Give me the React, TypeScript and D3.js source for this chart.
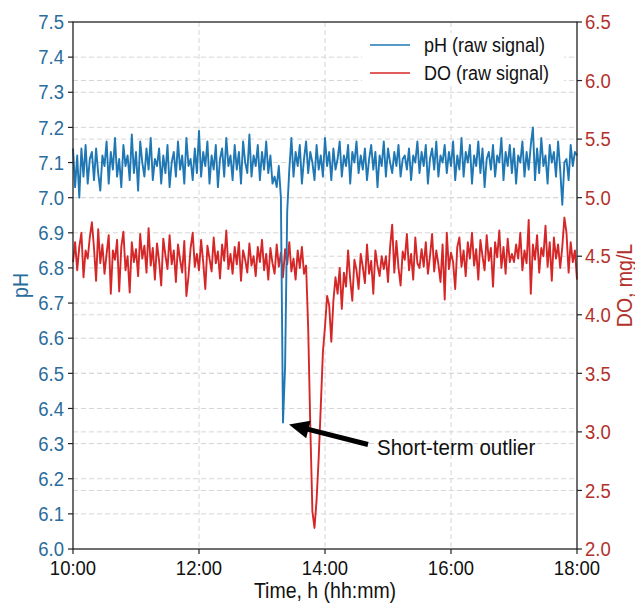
import React from 'react';
import * as d3 from 'd3';

// ---------- data ----------
const sampleIntervalMin = 2;
const startLabel = '10:00';
const endLabel = '18:00';

const phValues = [
  7.14, 7.03, 7.12, 7.00, 7.14, 7.06, 7.15, 7.04, 7.11, 7.13,
  7.05, 7.14, 7.07, 7.02, 7.12, 7.09, 7.16, 7.04, 7.13, 7.08,
  7.17, 7.06, 7.11, 7.03, 7.15, 7.09, 7.12, 7.05, 7.18, 7.07,
  7.13, 7.02, 7.16, 7.10, 7.06, 7.14, 7.08, 7.17, 7.05, 7.11,
  7.09, 7.14, 7.04, 7.12, 7.07, 7.15, 7.03, 7.10, 7.13, 7.06,
  7.16, 7.08, 7.12, 7.04, 7.17, 7.09, 7.11, 7.05, 7.14, 7.07,
  7.19, 7.06, 7.13, 7.09, 7.16, 7.04, 7.12, 7.08, 7.15, 7.03,
  7.11, 7.14, 7.06, 7.17, 7.09, 7.12, 7.05, 7.15, 7.08, 7.13,
  7.04, 7.16, 7.10, 7.07, 7.18, 7.06, 7.12, 7.09, 7.15, 7.05,
  7.13, 7.08, 7.16, 7.07, 7.12, 7.04, 7.06, 7.03, 7.09, 7.00,
  6.36, 6.52, 6.96, 7.08, 7.17, 7.06, 7.13, 7.09, 7.15, 7.04,
  7.11, 7.16, 7.07, 7.13, 7.10, 7.05, 7.15, 7.08, 7.12, 7.06,
  7.17, 7.09, 7.13, 7.05, 7.14, 7.08, 7.11, 7.16, 7.06, 7.12,
  7.09, 7.15, 7.04, 7.13, 7.10, 7.16, 7.07, 7.12, 7.08, 7.14,
  7.05, 7.11, 7.15, 7.08, 7.13, 7.03, 7.12, 7.09, 7.16, 7.06,
  7.14, 7.10, 7.07, 7.13, 7.09, 7.15, 7.06, 7.11, 7.12, 7.08,
  7.14, 7.05, 7.12, 7.10, 7.16, 7.07, 7.13, 7.09, 7.15, 7.04,
  7.11, 7.14, 7.08, 7.16, 7.06, 7.12, 7.10, 7.15, 7.07, 7.13,
  7.09, 7.16, 7.05, 7.12, 7.08, 7.17, 7.06, 7.13, 7.10, 7.15,
  7.04, 7.12, 7.09, 7.16, 7.07, 7.14, 7.03, 7.11, 7.13, 7.08,
  7.15, 7.06, 7.12, 7.10, 7.17, 7.05, 7.13, 7.09, 7.15, 7.07,
  7.14, 7.04, 7.12, 7.10, 7.16, 7.06, 7.13, 7.08, 7.15, 7.20,
  7.05, 7.14, 7.07, 7.17, 7.09, 7.12, 7.04, 7.15, 7.10, 7.13,
  7.06, 7.16, 7.08, 6.98, 7.10, 7.11, 7.05, 7.15, 7.09, 7.13,
  7.12,
];

const doValues = [
  4.45, 4.62, 4.38, 4.58, 4.70, 4.32, 4.55, 4.48, 4.66, 4.79,
  4.57, 4.29, 4.73, 4.44, 4.60, 4.35, 4.52, 4.68, 4.18, 4.55,
  4.47, 4.64, 4.20, 4.58, 4.71, 4.38, 4.50, 4.19, 4.62, 4.45,
  4.56, 4.33, 4.69, 4.48, 4.59, 4.36, 4.74, 4.42, 4.57, 4.30,
  4.61, 4.46, 4.25, 4.65, 4.51, 4.39, 4.68, 4.43, 4.55, 4.28,
  4.60, 4.47, 4.36, 4.63, 4.16, 4.33, 4.57, 4.70, 4.41, 4.52,
  4.38, 4.64, 4.45, 4.22, 4.59, 4.48, 4.37, 4.66, 4.44, 4.54,
  4.31, 4.60, 4.46, 4.72, 4.39, 4.52, 4.35, 4.58, 4.43, 4.62,
  4.29, 4.55, 4.47, 4.36, 4.61, 4.42, 4.50, 4.33, 4.58, 4.45,
  4.64, 4.38, 4.52, 4.30, 4.57, 4.44, 4.35, 4.60, 4.41, 4.53,
  4.32, 4.56, 4.43, 4.62, 4.37, 4.48, 4.30, 4.55, 4.40, 4.58,
  4.35, 4.42, 3.88, 3.05, 2.32, 2.18, 2.42, 2.78, 3.22, 3.68,
  3.90, 4.16, 4.08, 3.77, 4.12, 4.32, 4.18, 4.40, 4.05, 4.36,
  4.24, 4.55, 4.30, 4.12, 4.47, 4.38, 4.22, 4.52, 4.41, 4.27,
  4.60, 4.35, 4.46, 4.18, 4.55, 4.42, 4.33, 4.50, 4.39, 4.50,
  4.28, 4.58, 4.77, 4.36, 4.63, 4.40, 4.25, 4.54, 4.47, 4.69,
  4.38, 4.52, 4.30, 4.66, 4.44, 4.40, 4.56, 4.41, 4.62, 4.35,
  4.50, 4.69, 4.37, 4.55, 4.43, 4.28, 4.60, 4.13, 4.70, 4.39,
  4.53, 4.45, 4.22, 4.58, 4.66, 4.41, 4.55, 4.33, 4.62, 4.48,
  4.70, 4.42, 4.56, 4.30, 4.64, 4.50, 4.38, 4.68, 4.46, 4.57,
  4.24, 4.62, 4.49, 4.72, 4.40, 4.58, 4.35, 4.65, 4.45, 4.52,
  4.45, 4.60, 4.48, 4.70, 4.38, 4.55, 4.44, 4.81, 4.18, 4.60,
  4.47, 4.68, 4.36, 4.57, 4.50, 4.76, 4.41, 4.62, 4.29, 4.66,
  4.48, 4.60, 4.40, 4.58, 4.83, 4.70, 4.36, 4.62, 4.45, 4.55,
  4.30,
];

const phTicks = [6.0, 6.1, 6.2, 6.3, 6.4, 6.5, 6.6, 6.7, 6.8, 6.9, 7.0, 7.1, 7.2, 7.3, 7.4, 7.5];
const doTicks = [2.0, 2.5, 3.0, 3.5, 4.0, 4.5, 5.0, 5.5, 6.0, 6.5];
const timeTickLabels = ['10:00', '12:00', '14:00', '16:00', '18:00'];
const seriesNames = ['pH (raw signal)', 'DO (raw signal)'];
const axisTitles = { x: 'Time, h (hh:mm)', left: 'pH', right: 'DO, mg/L' };
const annotationText = 'Short-term outlier';

// ---------- styling ----------
const W = 635;
const H = 603;
const M = { left: 73, right: 577, top: 22, bottom: 549 };
const BLUE = '#1f77b4';
const RED = '#d62728';
const BLUE_TXT = '#2a6c9c';
const RED_TXT = '#b3312c';
const FONT = "'Liberation Sans', Arial, Helvetica, sans-serif";
const SY = 1.1;

function Txt(props: {
  x: number; y: number; size: number; fill?: string; anchor?: string; rotate?: number; sy?: number; children: any;
}) {
  const { x, y, size, fill = '#111', anchor = 'start', rotate = 0, sy = SY, children } = props;
  return (
    <text
      transform={`translate(${x},${y}) rotate(${rotate}) scale(1,${sy})`}
      fontSize={size}
      fontFamily={FONT}
      fill={fill}
      textAnchor={anchor as any}
    >
      {children}
    </text>
  );
}

export default function App() {
  const parse = d3.timeParse('%H:%M');
  const t0 = parse(startLabel) as Date;
  const t1 = parse(endLabel) as Date;
  const x = d3.scaleTime().domain([t0, t1]).range([M.left, M.right]);
  const yPH = d3.scaleLinear().domain([6.0, 7.5]).range([M.bottom, M.top]);
  const yDO = d3.scaleLinear().domain([2.0, 6.5]).range([M.bottom, M.top]);

  const times = phValues.map((_, i) => d3.timeMinute.offset(t0, i * sampleIntervalMin));
  const phData = phValues.map((v, i) => ({ t: times[i], v }));
  const doData = doValues.map((v, i) => ({ t: d3.timeMinute.offset(t0, i * sampleIntervalMin), v }));

  const phLine = d3.line<{ t: Date; v: number }>().x(d => x(d.t)).y(d => yPH(d.v));
  const doLine = d3.line<{ t: Date; v: number }>().x(d => x(d.t)).y(d => yDO(d.v));

  const timeTicks = timeTickLabels.map(l => parse(l) as Date);
  const fmt = d3.timeFormat('%H:%M');

  // annotation anchored to the pH minimum
  const minIdx = d3.minIndex(phValues);
  const tip = { x: x(phData[minIdx].t) + 6, y: yPH(phValues[minIdx]) + 2 };
  const tail = { x: tip.x + 79, y: tip.y + 20 };
  const dx = tip.x - tail.x, dy = tip.y - tail.y;
  const len = Math.hypot(dx, dy);
  const ux = dx / len, uy = dy / len;
  const nx = -uy, ny = ux;
  const headLen = 20, headHalf = 9;
  const base = { x: tip.x - ux * headLen, y: tip.y - uy * headLen };
  const head = [
    [tip.x, tip.y],
    [base.x + nx * headHalf, base.y + ny * headHalf],
    [base.x - nx * headHalf, base.y - ny * headHalf],
  ];

  const gridColor = '#d6d6d6';
  const axisColor = '#222';

  return (
    <svg width={W} height={H} style={{ position: 'absolute', left: 0, top: 0, background: '#fff' }}>
      <rect x={0} y={0} width={W} height={H} fill="#fff" />
      {/* grid */}
      <g stroke={gridColor} strokeWidth={1} strokeDasharray="5,3">
        {timeTicks.slice(1, -1).map((t, i) => (
          <line key={'vx' + i} x1={x(t)} x2={x(t)} y1={M.top} y2={M.bottom} />
        ))}
        {phTicks.slice(1, -1).map((v, i) => (
          <line key={'gp' + i} x1={M.left} x2={M.right} y1={yPH(v)} y2={yPH(v)} />
        ))}
        {doTicks.slice(1, -1).map((v, i) => (
          <line key={'gd' + i} x1={M.left} x2={M.right} y1={yDO(v)} y2={yDO(v)} />
        ))}
      </g>

      {/* series */}
      <path d={doLine(doData) || ''} fill="none" stroke={RED} strokeWidth={1.9} strokeLinejoin="round" />
      <path d={phLine(phData) || ''} fill="none" stroke={BLUE} strokeWidth={1.9} strokeLinejoin="round" />

      {/* frame */}
      <rect x={M.left} y={M.top} width={M.right - M.left} height={M.bottom - M.top} fill="none" stroke={axisColor} strokeWidth={1.3} />

      {/* left axis */}
      {phTicks.map((v, i) => (
        <g key={'lp' + i}>
          <line x1={M.left - 5} x2={M.left} y1={yPH(v)} y2={yPH(v)} stroke={axisColor} strokeWidth={1.2} />
          <Txt x={M.left - 9} y={yPH(v) + 7.2} size={18.5} fill={BLUE_TXT} anchor="end">{v.toFixed(1)}</Txt>
        </g>
      ))}
      {/* right axis */}
      {doTicks.map((v, i) => (
        <g key={'rd' + i}>
          <line x1={M.right} x2={M.right + 5} y1={yDO(v)} y2={yDO(v)} stroke={axisColor} strokeWidth={1.2} />
          <Txt x={M.right + 8} y={yDO(v) + 7.2} size={18.5} fill={RED_TXT} anchor="start">{v.toFixed(1)}</Txt>
        </g>
      ))}
      {/* bottom axis */}
      {timeTicks.map((t, i) => (
        <g key={'bt' + i}>
          <line x1={x(t)} x2={x(t)} y1={M.bottom} y2={M.bottom + 5} stroke={axisColor} strokeWidth={1.2} />
          <Txt x={x(t)} y={575} size={18.5} anchor="middle">{fmt(t)}</Txt>
        </g>
      ))}

      {/* axis titles */}
      <Txt x={(M.left + M.right) / 2} y={598} size={19.5} anchor="middle">{axisTitles.x}</Txt>
      <Txt x={28} y={(M.top + M.bottom) / 2} size={19.5} anchor="middle" rotate={-90} fill={BLUE_TXT}>{axisTitles.left}</Txt>
      <Txt x={632} y={(M.top + M.bottom) / 2} size={19.5} anchor="middle" rotate={-90} fill={RED_TXT}>{axisTitles.right}</Txt>

      {/* legend */}
      <rect x={362} y={33} width={202} height={52} fill="#fff" />
      {seriesNames.map((name, i) => (
        <g key={'lg' + i}>
          <line x1={370} x2={410} y1={45 + i * 28} y2={45 + i * 28} stroke={i === 0 ? BLUE : RED} strokeWidth={1.6} />
          <Txt x={424} y={45 + i * 28 + 7} size={18}>{name}</Txt>
        </g>
      ))}

      {/* annotation */}
      <line x1={tail.x} y1={tail.y} x2={base.x + ux * 2} y2={base.y + uy * 2} stroke="#000" strokeWidth={5} />
      <polygon points={head.map(p => p.join(',')).join(' ')} fill="#000" />
      <Txt x={tail.x + 9} y={tip.y + 30} size={20.5} sy={1.07}>{annotationText}</Txt>
    </svg>
  );
}
